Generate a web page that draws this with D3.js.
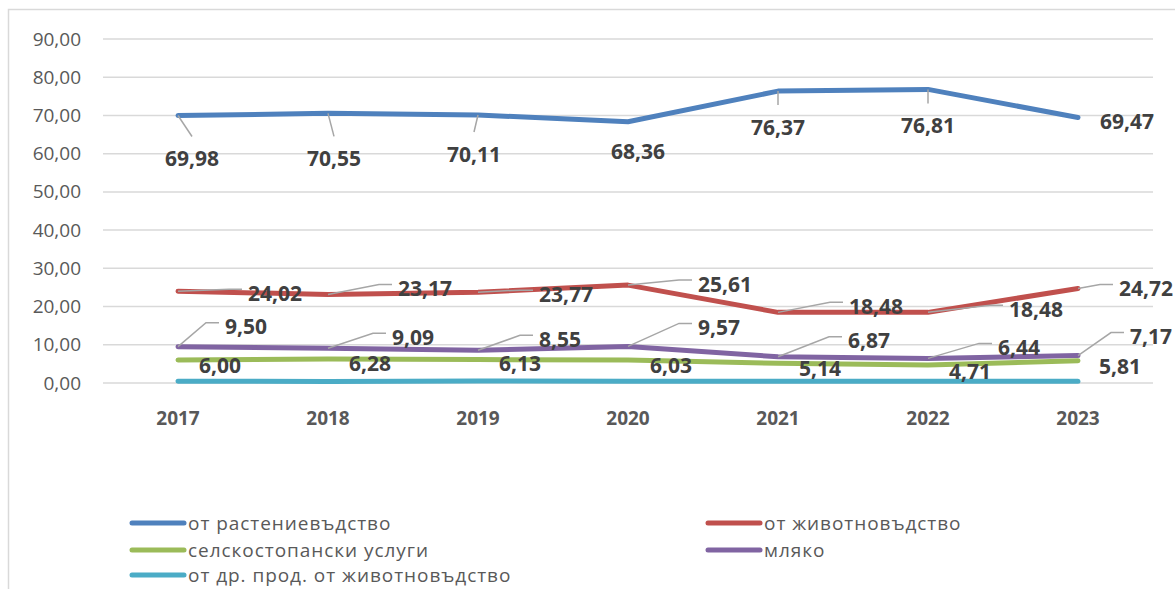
<!DOCTYPE html>
<html>
<head>
<meta charset="utf-8">
<script src="https://cdn.jsdelivr.net/npm/d3@7"></script>
<style>
  html, body { margin: 0; padding: 0; background: #fff; }
  svg { display: block; font-family: 'Open Sans', sans-serif; }
</style>
</head>
<body>
<svg id="chart" width="1175" height="589"></svg>
<script>
const years = ['2017', '2018', '2019', '2020', '2021', '2022', '2023'];
const yTicks = [0, 10, 20, 30, 40, 50, 60, 70, 80, 90];

const plantValues = [69.98, 70.55, 70.11, 68.36, 76.37, 76.81, 69.47];
const livestockValues = [24.02, 23.17, 23.77, 25.61, 18.48, 18.48, 24.72];
const servicesValues = [6.00, 6.28, 6.13, 6.03, 5.14, 4.71, 5.81];
const milkValues = [9.50, 9.09, 8.55, 9.57, 6.87, 6.44, 7.17];
const otherValues = [0.45, 0.42, 0.50, 0.48, 0.46, 0.44, 0.45];

const seriesNames = [
    'от растениевъдство',
    'от животновъдство',
    'селскостопански услуги',
    'мляко',
    'от др. прод. от животновъдство'
];
const seriesColors = ['#4f81bd', '#c0504d', '#9bbb59', '#8064a2', '#4bacc6'];

// label placement relative to the point (dx, dy), like the hand-moved labels in Excel
const plantLabelPos = [[14, 43], [6, 45], [-4, 39], [10, 30], [0, 36], [0, 36], [49, 4]];
const livestockLabelPos = [[97, 2], [97, -6], [88, 2], [97, -1], [98, -6], [108, -3], [68, 0]];
const servicesLabelPos = [[42, 5], [42, 4], [42, 4], [43, 5], [42, 5], [42, 6], [42, 6]];
const milkLabelPos = [[68, -20], [85, -11], [82, -11], [91, -19], [91, -16], [91, -11], [73, -19]];

const series = [
    { name: seriesNames[0], color: seriesColors[0], values: plantValues, labels: plantLabelPos, leader: 'down' },
    { name: seriesNames[1], color: seriesColors[1], values: livestockValues, labels: livestockLabelPos, leader: 'side' },
    { name: seriesNames[2], color: seriesColors[2], values: servicesValues, labels: servicesLabelPos, leader: 'none' },
    { name: seriesNames[3], color: seriesColors[3], values: milkValues, labels: milkLabelPos, leader: 'side' },
    { name: seriesNames[4], color: seriesColors[4], values: otherValues, labels: null, leader: 'none' }
];

const svg = d3.select('#chart');
const fmt = v => d3.format('.2f')(v).replace('.', ',');

// outer chart border (only top and left edges are visible in the frame)
svg.append('rect')
    .attr('x', 8.5).attr('y', 9.5)
    .attr('width', 1200).attr('height', 700)
    .attr('fill', 'none')
    .attr('stroke', '#d9d9d9')
    .attr('stroke-width', 1.5);

const x = d3.scaleBand().domain(years).range([103, 1153]);
const y = d3.scaleLinear().domain([0, 90]).range([383, 39]);
const cx = d => x(d) + x.bandwidth() / 2;

// gridlines
svg.append('g')
    .selectAll('line')
    .data(yTicks)
    .join('line')
    .attr('x1', 103).attr('x2', 1153)
    .attr('y1', d => y(d)).attr('y2', d => y(d))
    .attr('stroke', '#d9d9d9')
    .attr('stroke-width', 1.5);

// y axis labels
const yAxis = svg.append('g')
    .attr('transform', 'translate(81,0)')
    .call(d3.axisLeft(y).tickValues(yTicks).tickFormat(fmt).tickSize(0).tickPadding(0));
yAxis.select('.domain').remove();
yAxis.selectAll('text')
    .attr('fill', '#595959')
    .attr('font-size', 19)
    .attr('font-family', 'Open Sans, sans-serif');

// x axis labels
const xAxis = svg.append('g')
    .attr('transform', 'translate(0,411)')
    .call(d3.axisBottom(x).tickSize(0).tickPadding(0));
xAxis.select('.domain').remove();
xAxis.selectAll('text')
    .attr('fill', '#595959')
    .attr('font-size', 19)
    .attr('font-weight', 'bold')
    .attr('font-family', 'Open Sans, sans-serif');

// lines
const line = d3.line()
    .x((d, i) => cx(years[i]))
    .y(d => y(d));

svg.append('g')
    .selectAll('path')
    .data(series.slice().reverse())
    .join('path')
    .attr('d', s => line(s.values))
    .attr('fill', 'none')
    .attr('stroke', s => s.color)
    .attr('stroke-width', 5)
    .attr('stroke-linecap', 'round')
    .attr('stroke-linejoin', 'round');

// data labels and leader lines
const labelG = svg.append('g');
const leaderG = svg.append('g');

series.forEach(s => {
    if (!s.labels) return;
    s.values.forEach((v, i) => {
        const px = cx(years[i]);
        const py = y(v);
        const lx = px + s.labels[i][0];
        const ly = py + s.labels[i][1];

        const t = labelG.append('text')
            .attr('x', lx).attr('y', ly)
            .attr('dy', '0.36em')
            .attr('text-anchor', 'middle')
            .attr('font-size', 21)
            .attr('font-weight', 'bold')
            .attr('fill', '#404040')
            .text(fmt(v));

        if (s.leader === 'side') {
            const left = t.node().getBBox().x;
            leaderG.append('polyline')
                .attr('points', [[px, py], [left - 19, ly - 4], [left - 6, ly - 4]].join(' '))
                .attr('fill', 'none')
                .attr('stroke', '#a6a6a6')
                .attr('stroke-width', 1.5);
        } else if (s.leader === 'down' && s.labels[i][1] - 22 > 12) {
            leaderG.append('line')
                .attr('x1', px).attr('y1', py)
                .attr('x2', lx).attr('y2', ly - 22)
                .attr('stroke', '#a6a6a6')
                .attr('stroke-width', 1.5);
        }
    });
});
labelG.raise();

// legend
const legendPos = [[130, 523], [706, 523], [130, 550], [706, 550], [130, 575]];
const legend = svg.append('g')
    .selectAll('g')
    .data(series)
    .join('g')
    .attr('transform', (d, i) => `translate(${legendPos[i][0]},${legendPos[i][1]})`);

legend.append('line')
    .attr('x1', 2).attr('x2', 54)
    .attr('stroke', d => d.color)
    .attr('stroke-width', 5)
    .attr('stroke-linecap', 'round');

legend.append('text')
    .attr('x', 58)
    .attr('dy', '0.36em')
    .attr('font-size', 19)
    .attr('letter-spacing', 0.95)
    .attr('fill', '#595959')
    .text(d => d.name);
</script>
</body>
</html>
